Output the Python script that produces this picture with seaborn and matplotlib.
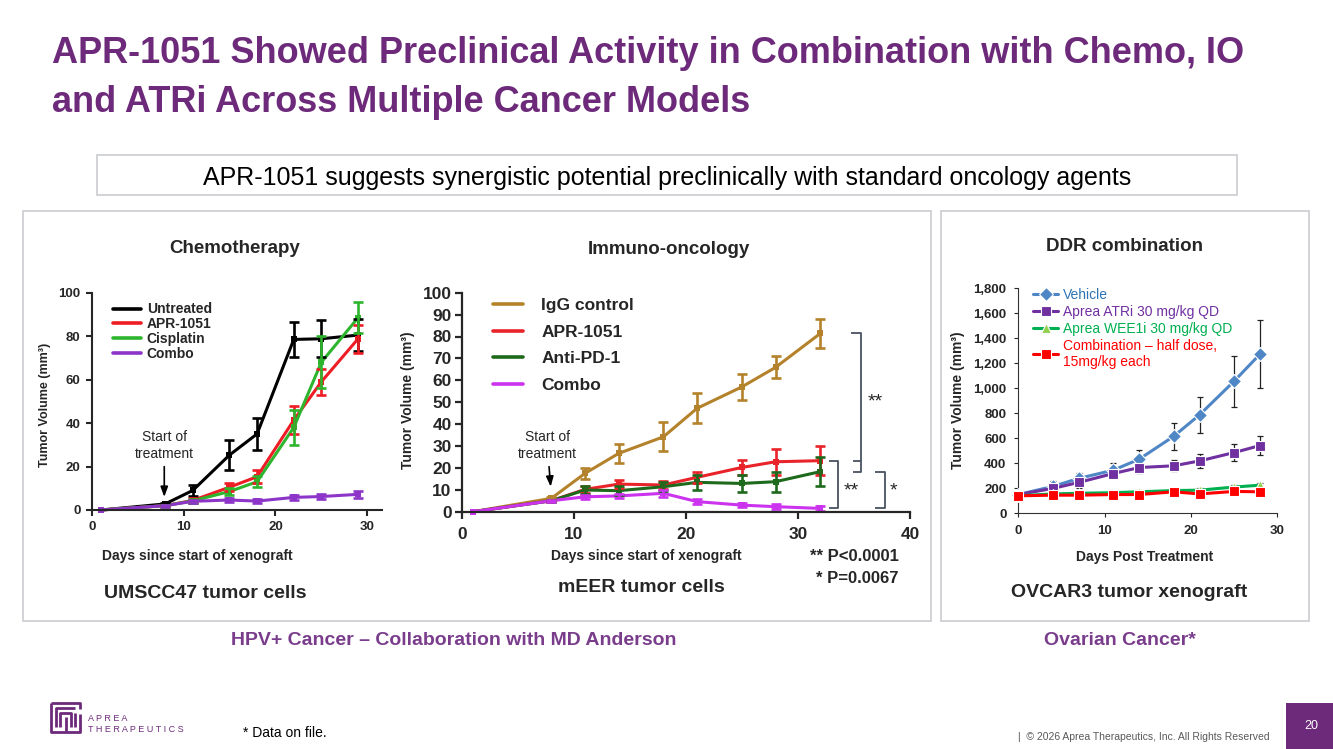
import numpy as np
import pandas as pd
import matplotlib
matplotlib.use("Agg")
import matplotlib.pyplot as plt
import seaborn as sns
from matplotlib.patches import Rectangle

# ---- Chemotherapy panel (UMSCC47) ----
chemo_days = [1, 8, 11, 15, 18, 22, 25, 29]
chemo_groups = ["Untreated", "APR-1051", "Cisplatin", "Combo"]
untreated = [0, 2.8, 9.0, 25.3, 35.0, 78.5, 78.8, 80.5]
untreated_err = [0, 0.6, 2.6, 6.7, 7.3, 8.0, 8.6, 7.5]
apr_chemo = [0, 2.0, 4.4, 10.5, 15.3, 41.4, 59.0, 78.8]
apr_chemo_err = [0, 0.5, 1.2, 1.8, 3.0, 6.5, 6.0, 6.5]
cisplatin = [0, 2.0, 4.2, 8.5, 13.0, 38.0, 68.0, 88.5]
cisplatin_err = [0, 0.5, 1.0, 1.5, 2.5, 8.0, 12.0, 7.0]
combo_chemo = [0, 2.0, 4.0, 4.6, 4.1, 5.8, 6.2, 7.2]
combo_chemo_err = [0, 0.4, 0.8, 1.0, 0.8, 1.0, 1.2, 1.6]

# ---- Immuno-oncology panel (mEER) ----
io_days = [1, 8, 11, 14, 18, 21, 25, 28, 32]
io_groups = ["IgG control", "APR-1051", "Anti-PD-1", "Combo"]
igg = [0, 6.1, 17.5, 26.6, 34.2, 47.2, 57.0, 65.9, 81.4]
igg_err = [0, 0.8, 2.5, 4.4, 6.6, 6.9, 5.8, 5.0, 6.6]
apr_io = [0, 5.0, 10.2, 12.6, 12.2, 15.7, 20.2, 22.8, 23.3]
apr_io_err = [0, 0.5, 1.5, 2.0, 2.0, 2.5, 3.5, 6.0, 6.5]
antipd1 = [0, 5.0, 9.9, 9.6, 11.4, 13.4, 12.9, 13.7, 18.3]
antipd1_err = [0, 0.5, 2.0, 2.0, 2.0, 3.5, 4.0, 4.5, 6.5]
combo_io = [0, 5.0, 6.8, 7.2, 8.4, 4.6, 3.0, 2.3, 1.5]
combo_io_err = [0, 0.5, 1.0, 1.0, 1.5, 1.0, 0.8, 1.0, 1.0]

# ---- DDR panel (OVCAR3) ----
ddr_days = [0, 4, 7, 11, 14, 18, 21, 25, 28]
ddr_groups = ["Vehicle", "Aprea ATRi 30 mg/kg QD", "Aprea WEE1i 30 mg/kg QD",
              "Combination \u2013 half dose,\n15mg/kg each"]
vehicle = [150, 215, 279, 345, 433, 616, 788, 1057, 1274]
vehicle_err = [10, 40, 40, 55, 75, 110, 145, 205, 270]
atri = [150, 199, 247, 318, 366, 380, 419, 486, 542]
atri_err = [10, 30, 45, 35, 40, 45, 55, 65, 75]
wee1i = [140, 155, 160, 165, 172, 182, 185, 210, 225]
wee1i_err = [10, 15, 15, 15, 15, 15, 15, 20, 20]
combination = [140, 145, 145, 150, 150, 172, 155, 175, 172]
combination_err = [10, 15, 15, 15, 15, 15, 15, 15, 15]

PURPLE = "#6D2A7A"
W, H = 1333, 749

sns.set_style("ticks")
plt.rcParams["font.family"] = ["Liberation Sans", "DejaVu Sans"]

fig = plt.figure(figsize=(W / 100, H / 100), dpi=100)
bg = fig.add_axes([0, 0, 1, 1], zorder=-1)
bg.set_xlim(0, W)
bg.set_ylim(H, 0)
bg.axis("off")


def txt(x, yc, s, size, **kw):
    # place text by the visual centre of its capitals
    bg.text(x, yc + 0.358 * size * 100 / 72, s, fontsize=size, va="baseline", **kw)


def px_axes(x0, y0, x1, y1):
    return fig.add_axes([x0 / W, 1 - y1 / H, (x1 - x0) / W, (y1 - y0) / H])


# header
txt(52, 50, "APR-1051 Showed Preclinical Activity in Combination with Chemo, IO",
    26, weight="bold", color=PURPLE)
txt(52, 99, "and ATRi Across Multiple Cancer Models", 26, weight="bold", color=PURPLE)
bg.add_patch(Rectangle((97, 155), 1140, 40, fill=False, ec="#C9CCCF", lw=1.2))
txt(667, 176, "APR-1051 suggests synergistic potential preclinically with standard oncology agents",
    18, ha="center", color="black")
bg.add_patch(Rectangle((23, 211), 908, 410, fill=False, ec="#C9CCCF", lw=1.2))
bg.add_patch(Rectangle((941, 211), 368, 410, fill=False, ec="#C9CCCF", lw=1.2))

# panel titles
txt(235, 246, "Chemotherapy", 13.5, ha="center", weight="bold")
txt(669, 247, "Immuno-oncology", 13.5, ha="center", weight="bold")
txt(1124, 244, "DDR combination", 13.5, ha="center", weight="bold")
txt(205, 591, "UMSCC47 tumor cells", 14, ha="center", weight="bold")
txt(641, 585, "mEER tumor cells", 14, ha="center", weight="bold")
txt(1129, 590, "OVCAR3 tumor xenograft", 14, ha="center", weight="bold")
txt(454, 638, "HPV+ Cancer \u2013 Collaboration with MD Anderson", 14, ha="center",
    weight="bold", color="#7A3D8C")
txt(1120, 638, "Ovarian Cancer*", 14, ha="center", weight="bold", color="#7A3D8C")
txt(899, 555, "** P<0.0001", 12, ha="right", weight="bold")
txt(899, 577, "* P=0.0067", 12, ha="right", weight="bold")

# footer
for xs, ys in [([51, 80, 80], [703, 703, 709]), ([51, 51, 80, 80], [703, 732, 732, 714]),
               ([56, 56, 75], [727, 708, 708]), ([60, 60, 71, 71], [727, 713, 713, 727]),
               ([65.5, 65.5], [717, 731]), ([75, 75], [713, 727])]:
    bg.plot(xs, ys, color=PURPLE, lw=2.0, solid_capstyle="butt")
txt(88, 718, "A P R E A", 6.5, color=PURPLE)
txt(88, 729, "T H E R A P E U T I C S", 6.5, color=PURPLE)
txt(243, 732, "* Data on file.", 10, color="black")
txt(1270, 736, "|  \u00a9 2026 Aprea Therapeutics, Inc. All Rights Reserved", 7.5,
    ha="right", color="#595959")
bg.add_patch(Rectangle((1286, 703), 47, 46, color=PURPLE, lw=0))
txt(1311, 725, "20", 9, ha="center", color="white")


def relegend(ax, anchor, size, weight, hl, htp, ls, keep_markers=False):
    old = ax.get_legend()
    handles = old.legend_handles
    labels = [t.get_text() for t in old.get_texts()]
    leg = ax.legend(handles, labels, loc="upper left", bbox_to_anchor=anchor,
                    frameon=False, borderpad=0, borderaxespad=0, handlelength=hl,
                    handletextpad=htp, labelspacing=ls,
                    prop=dict(size=size, weight=weight))
    if not keep_markers:
        for h in leg.legend_handles:
            h.set_marker("")
    return leg


# ---------------- Chemotherapy ----------------
ax1 = px_axes(91.7, 292.7, 381.7, 510)
chemo_vals = [untreated, apr_chemo, cisplatin, combo_chemo]
chemo_errs = [untreated_err, apr_chemo_err, cisplatin_err, combo_chemo_err]
chemo_colors = ["#000000", "#EE1C24", "#2DB52D", "#8C35C8"]
chemo_df = pd.DataFrame({
    "day": chemo_days * len(chemo_groups),
    "volume": sum(chemo_vals, []),
    "group": np.repeat(chemo_groups, len(chemo_days)),
})
sns.lineplot(data=chemo_df, x="day", y="volume", hue="group", hue_order=chemo_groups,
             palette=chemo_colors, marker="s", markersize=4.5, markeredgewidth=0,
             linewidth=2.2, errorbar=None, ax=ax1, clip_on=False)
for v, e, c in zip(chemo_vals, chemo_errs, chemo_colors):
    ax1.errorbar(chemo_days[1:], v[1:], yerr=e[1:], fmt="none", ecolor=c,
                 elinewidth=1.9, capsize=3.6, capthick=1.9, clip_on=False)
ax1.set_xlim(0, 31.57)
ax1.set_ylim(0, 100)
ax1.set_xticks([0, 10, 20, 30])
ax1.set_yticks(range(0, 101, 20))
sns.despine(ax=ax1)
for sp in ax1.spines.values():
    sp.set_linewidth(1.5)
ax1.tick_params(length=4.5, width=1.5, labelsize=9.5, pad=3.5)
for lab in ax1.get_xticklabels() + ax1.get_yticklabels():
    lab.set_fontweight("bold")
ax1.set_xlabel("Days since start of xenograft", fontsize=10, weight="bold")
ax1.set_ylabel("Tumor Volume (mm\u00b3)", fontsize=9, weight="bold")
ax1.xaxis.set_label_coords(0.364, -0.212)
ax1.yaxis.set_label_coords(-0.16, 0.483)
ax1.xaxis.label.set_va("center")
ax1.yaxis.label.set_va("center")
leg1 = relegend(ax1, (0.0745, 0.955), 10, "bold", 2.0, 0.4, 0.05)
for h in leg1.legend_handles:
    h.set_linewidth(2.6)
ax1.annotate("Start of\ntreatment", xy=(7.9, 6.0), xytext=(7.9, 29.7), ha="center",
             va="center", fontsize=10,
             arrowprops=dict(arrowstyle="-|>,head_length=0.6,head_width=0.22",
                             color="black", lw=1.2, shrinkA=2, shrinkB=0))

# ---------------- Immuno-oncology ----------------
ax2 = px_axes(461.7, 292.7, 910, 511.7)
io_vals = [igg, apr_io, antipd1, combo_io]
io_errs = [igg_err, apr_io_err, antipd1_err, combo_io_err]
io_colors = ["#B4822A", "#E8232A", "#1D6A1D", "#CC33EE"]
io_df = pd.DataFrame({
    "day": io_days * len(io_groups),
    "volume": sum(io_vals, []),
    "group": np.repeat(io_groups, len(io_days)),
})
sns.lineplot(data=io_df, x="day", y="volume", hue="group", hue_order=io_groups,
             palette=io_colors, marker="s", markersize=5, markeredgewidth=0,
             linewidth=2.2, errorbar=None, ax=ax2, clip_on=False)
for v, e, c in zip(io_vals, io_errs, io_colors):
    ax2.errorbar(io_days[1:], v[1:], yerr=e[1:], fmt="none", ecolor=c,
                 elinewidth=1.9, capsize=3.6, capthick=1.9, clip_on=False)
ax2.set_xlim(0, 40)
ax2.set_ylim(0, 100)
ax2.set_xticks(range(0, 41, 10))
ax2.set_yticks(range(0, 101, 10))
sns.despine(ax=ax2)
for sp in ax2.spines.values():
    sp.set_linewidth(1.6)
ax2.tick_params(axis="x", length=4.8, width=1.6, labelsize=12.5, pad=6)
ax2.tick_params(axis="y", length=4.8, width=1.6, labelsize=12.5, pad=2.5)
for lab in ax2.get_xticklabels() + ax2.get_yticklabels():
    lab.set_fontweight("bold")
ax2.set_xlabel("Days since start of xenograft", fontsize=10, weight="bold")
ax2.set_ylabel("Tumor Volume (mm\u00b3)", fontsize=10, weight="bold")
ax2.xaxis.set_label_coords(0.411, -0.202)
ax2.yaxis.set_label_coords(-0.120, 0.510)
ax2.xaxis.label.set_va("center")
ax2.yaxis.label.set_va("center")
leg2 = relegend(ax2, (0.0705, 0.975), 12.5, "bold", 1.72, 1.05, 0.65)
for h in leg2.legend_handles:
    h.set_linewidth(2.6)
ax2.annotate("Start of\ntreatment", xy=(7.94, 11.4), xytext=(7.64, 30.2), ha="center",
             va="center", fontsize=10,
             arrowprops=dict(arrowstyle="-|>,head_length=0.6,head_width=0.22",
                             color="black", lw=1.2, shrinkA=2, shrinkB=0))
# significance brackets
bk = dict(color="#4A5260", lw=1.3, clip_on=False, solid_capstyle="butt")
ax2.plot([34.7, 35.6, 35.6, 34.9], [igg[-1], igg[-1], antipd1[-1], antipd1[-1]], **bk)
ax2.plot([34.9, 35.6], [apr_io[-1], apr_io[-1]], **bk)
ax2.plot([32.8, 33.6, 33.6, 32.8], [apr_io[-1], apr_io[-1], combo_io[-1], combo_io[-1]], **bk)
ax2.plot([36.9, 37.8, 37.8, 36.9], [antipd1[-1], antipd1[-1], combo_io[-1], combo_io[-1]], **bk)
ax2.text(36.9, 50.2, "**", fontsize=14, ha="center", va="center")
ax2.text(34.8, 9.5, "**", fontsize=14, ha="center", va="center")
ax2.text(38.5, 9.5, "*", fontsize=14, ha="center", va="center")

# ---------------- DDR combination ----------------
ax3 = px_axes(1018.3, 288.3, 1277.3, 513.3)
ddr_vals = [vehicle, atri, wee1i, combination]
ddr_errs = [vehicle_err, atri_err, wee1i_err, combination_err]
ddr_colors = ["#4F86C6", "#7030A0", "#00B050", "#FF0000"]
ddr_text_colors = ["#2E75B6", "#7030A0", "#00B050", "#FF0000"]
ddr_df = pd.DataFrame({
    "day": ddr_days * len(ddr_groups),
    "volume": sum(ddr_vals, []),
    "group": np.repeat(ddr_groups, len(ddr_days)),
})
for v, e in zip(ddr_vals, ddr_errs):
    ax3.errorbar(ddr_days, v, yerr=e, fmt="none", ecolor="#222222", elinewidth=0.9,
                 capsize=2.0, capthick=0.9, zorder=1, clip_on=False)
sns.lineplot(data=ddr_df, x="day", y="volume", hue="group", hue_order=ddr_groups,
             style="group", style_order=ddr_groups, markers=["D", "s", "^", "s"],
             dashes=False, palette=ddr_colors, markersize=7, markeredgewidth=0.8,
             linewidth=2.2, errorbar=None, ax=ax3, clip_on=False, zorder=3)
ax3.set_xlim(0, 30)
ax3.set_ylim(0, 1800)
ax3.set_xticks([0, 10, 20, 30])
ax3.set_yticks(range(0, 1801, 200))
ax3.yaxis.set_major_formatter(matplotlib.ticker.StrMethodFormatter("{x:,.0f}"))
sns.despine(ax=ax3)
for sp in ax3.spines.values():
    sp.set_linewidth(0.8)
    sp.set_color("#333333")
ax3.tick_params(length=3, width=0.8, labelsize=9.5, pad=5.5)
for lab in ax3.get_xticklabels() + ax3.get_yticklabels():
    lab.set_fontweight("bold")
ax3.set_xlabel("Days Post Treatment", fontsize=10, weight="bold")
ax3.set_ylabel("Tumor Volume (mm\u00b3)", fontsize=10, weight="bold")
ax3.xaxis.set_label_coords(0.489, -0.194)
ax3.yaxis.set_label_coords(-0.233, 0.504)
ax3.xaxis.label.set_va("center")
ax3.yaxis.label.set_va("center")
leg3 = relegend(ax3, (0.058, 1.0), 10, "normal", 1.8, 0.36, 0.2, keep_markers=True)
for t, c in zip(leg3.get_texts(), ddr_text_colors):
    t.set_color(c)
# light green fill on the WEE1i triangles
wee_lines = [ln for ln in ax3.lines if ln.get_marker() == "^"]
for ln in wee_lines + [h for h in leg3.legend_handles if h.get_marker() == "^"]:
    ln.set_markerfacecolor("#92D050")

fig.savefig("out.png", dpi=100)
